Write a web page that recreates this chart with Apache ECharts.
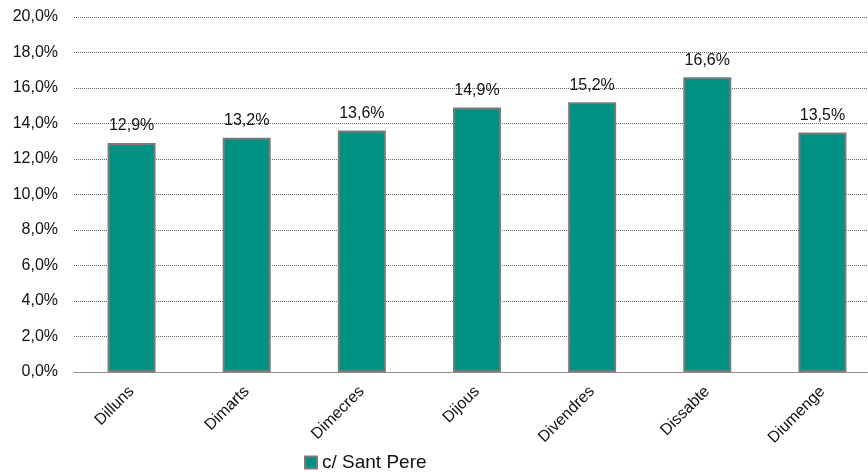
<!DOCTYPE html>
<html>
<head>
<meta charset="utf-8">
<script src="https://cdn.jsdelivr.net/npm/echarts@6/dist/echarts.min.js"></script>
<style>
  html, body { margin: 0; padding: 0; background: #fff; overflow: hidden; }
  #chart { width: 890px; height: 472px; }
</style>
</head>
<body>
<div id="chart"></div>
<script>
var days = ['Dilluns', 'Dimarts', 'Dimecres', 'Dijous', 'Divendres', 'Dissabte', 'Diumenge'];
var santPere = [12.9, 13.2, 13.6, 14.9, 15.2, 16.6, 13.5];
var seriesName = 'c/ Sant Pere';

function pct(v) {
  return v.toFixed(1).replace('.', ',') + '%';
}

var myChart = echarts.init(document.getElementById('chart'));
myChart.setOption({
  animation: false,
  textStyle: { fontFamily: 'Liberation Sans, Arial, sans-serif' },
  grid: { left: 74, top: 17, width: 806, height: 355 },
  legend: {
    data: [seriesName],
    icon: 'rect',
    left: 299,
    top: 448,
    itemWidth: 12,
    itemHeight: 12,
    itemGap: 3,
    textStyle: { fontSize: 19, color: '#111', fontFamily: 'Liberation Sans, Arial, sans-serif' }
  },
  xAxis: {
    type: 'category',
    data: days,
    axisLine: { show: true, lineStyle: { color: '#777', type: 'dotted', width: 1 } },
    axisTick: { show: false },
    axisLabel: {
      rotate: 45,
      fontSize: 16,
      color: '#111',
      margin: 17,
      interval: 0
    }
  },
  yAxis: {
    type: 'value',
    min: 0,
    max: 20,
    interval: 2,
    axisLine: { show: false },
    axisTick: { show: false },
    axisLabel: {
      fontSize: 16,
      color: '#111',
      margin: 16,
      formatter: function (v) { return pct(v); }
    },
    splitLine: { lineStyle: { color: '#666', type: 'dotted', width: 1 } }
  },
  series: [{
    name: seriesName,
    type: 'bar',
    data: santPere,
    barWidth: 48,
    itemStyle: {
      color: '#009182',
      borderColor: '#7a7a7a',
      borderWidth: 2
    },
    label: {
      show: true,
      position: 'top',
      distance: 9,
      fontSize: 16,
      color: '#111',
      formatter: function (p) { return pct(p.value); }
    }
  }]
});
</script>
</body>
</html>
